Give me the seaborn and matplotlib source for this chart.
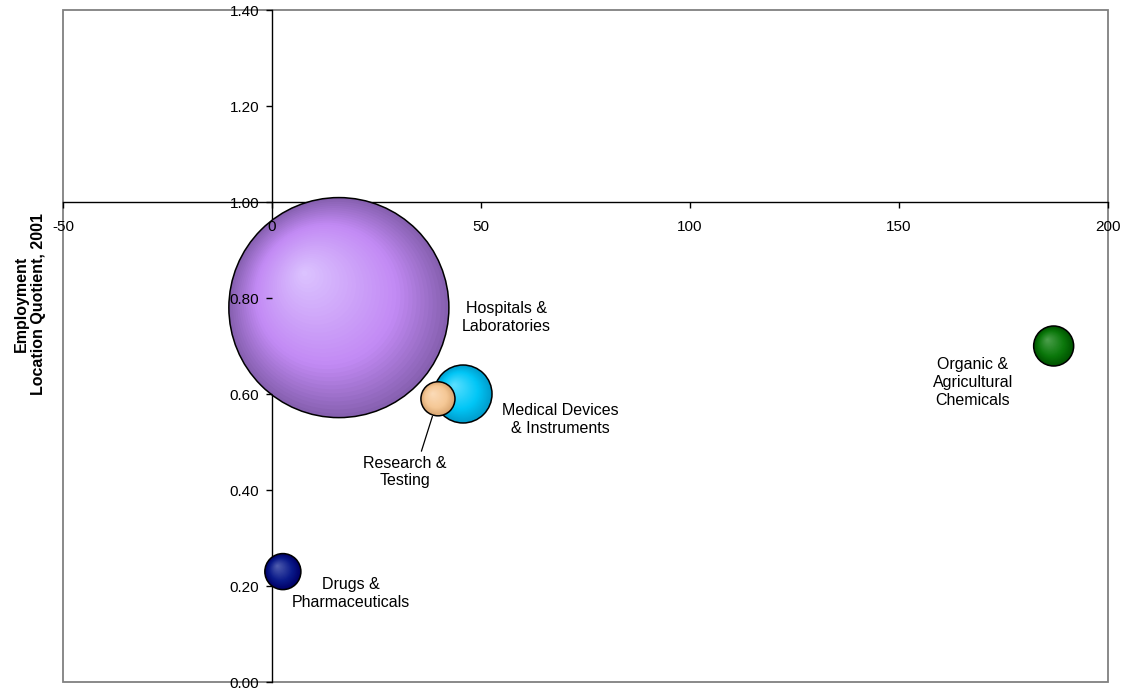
import numpy as np
import pandas as pd
import matplotlib
matplotlib.use("Agg")
import matplotlib.pyplot as plt
from matplotlib.transforms import ScaledTranslation
from matplotlib.patches import Rectangle
from matplotlib.colors import to_rgb
import seaborn as sns

# ---- data -------------------------------------------------------------
categories = ["Hospitals &\nLaboratories", "Medical Devices\n& Instruments",
              "Research &\nTesting", "Drugs &\nPharmaceuticals",
              "Organic &\nAgricultural\nChemicals"]
growth = [16.0, 45.7, 39.7, 2.6, 187.0]          # x values
location_quotient = [0.78, 0.60, 0.59, 0.23, 0.70]
employment = [24200, 1680, 580, 650, 800]       # bubble sizes

edge_colors = ["#8660b0", "#009ccc", "#d9a570", "#000066", "#005200"]
mid_colors = ["#c28af4", "#00c6f6", "#f5c896", "#0a1a8a", "#0b780b"]
light_colors = ["#dcc4ff", "#5ee0ff", "#fbdcba", "#5360b0", "#4ea04e"]

label_x = [56.0, 68.9, 31.8, 18.9, 167.7]
label_y = [0.76, 0.546, 0.4375, 0.185, 0.623]

x_ticks = [-50, 0, 50, 100, 150, 200]
y_ticks = [0.0, 0.2, 0.4, 0.6, 0.8, 1.0, 1.2, 1.4]

df = pd.DataFrame({"category": categories, "growth": growth,
                   "lq": location_quotient, "employment": employment})

# ---- figure -----------------------------------------------------------
sns.set_theme(style="white")
plt.rcParams["font.family"] = ["Liberation Sans", "DejaVu Sans"]
plt.rcParams["text.color"] = "black"
plt.rcParams["xtick.color"] = "black"
plt.rcParams["ytick.color"] = "black"

W, H, DPI = 1125, 692, 100
fig = plt.figure(figsize=(W / DPI, H / DPI), dpi=DPI)
ax = fig.add_axes([63 / W, 1 - 682 / H, (1108 - 63) / W, (682 - 10) / H])
ax.set_xlim(-50, 200)
ax.set_ylim(0, 1.4)

# area of the largest bubble in points^2; others scale with employment
S_MAX = 25100.0
size_max = max(employment)


def blend(c1, c2, t):
    a, b = np.array(to_rgb(c1)), np.array(to_rgb(c2))
    return tuple(a + (b - a) * t)


n_layers = 36
for i, row in df.iterrows():
    s_full = row["employment"] / size_max * S_MAX
    radius_pt = np.sqrt(s_full) / 2.0
    one = df.iloc[[i]]
    for k in range(n_layers):
        f = 1.0 - k / n_layers  # fraction of full radius
        t = 1.0 - f
        if t < 0.35:
            col = blend(edge_colors[i], mid_colors[i], t / 0.35)
        else:
            col = blend(mid_colors[i], light_colors[i], (t - 0.35) / 0.65)
        off = (1.0 - f) * 0.32 * radius_pt / 72.0
        tr = ax.transData + ScaledTranslation(-off, off, fig.dpi_scale_trans)
        sns.scatterplot(data=one, x="growth", y="lq", s=s_full * f * f,
                        color=col, edgecolor="none", linewidth=0,
                        transform=tr, ax=ax, legend=False, zorder=3 + i)
    sns.scatterplot(data=one, x="growth", y="lq", s=s_full,
                    facecolor="none", edgecolor="black", linewidth=1.1,
                    ax=ax, legend=False, zorder=3 + i)

# ---- labels -----------------------------------------------------------
for i, name in enumerate(categories):
    if name.startswith("Research"):
        s_full = employment[i] / size_max * S_MAX
        ax.annotate(name, xy=(growth[i], location_quotient[i]),
                    xytext=(label_x[i], label_y[i]), ha="center", va="center",
                    fontsize=11.5, zorder=20, color="black",
                    arrowprops=dict(arrowstyle="-", color="black", lw=0.9,
                                    relpos=(0.68, 1.0), shrinkA=1,
                                    shrinkB=np.sqrt(s_full) / 2 + 1))
    else:
        ax.text(label_x[i], label_y[i], name, ha="center", va="center",
                fontsize=11.5, zorder=20, linespacing=1.25, color="black")

# ---- axes: crossing at x=0, y=1 --------------------------------------
ax.spines["left"].set_position(("data", 0))
ax.spines["bottom"].set_position(("data", 1.0))
for sp in ("left", "bottom"):
    ax.spines[sp].set_color("black")
    ax.spines[sp].set_linewidth(1.0)
    ax.spines[sp].set_zorder(2)
for sp in ("top", "right"):
    ax.spines[sp].set_visible(False)
ax.add_patch(Rectangle((0, 0), 1, 1, transform=ax.transAxes, fill=False,
                       edgecolor="#808080", linewidth=1.3, clip_on=False,
                       zorder=1))

ax.set_xticks(x_ticks)
ax.set_xticklabels([str(v) for v in x_ticks])
ax.set_yticks(y_ticks)
ax.set_yticklabels([f"{v:.2f}" for v in y_ticks])
ax.tick_params(axis="x", direction="out", length=4, width=1, pad=9,
               labelsize=11, colors="black", bottom=True)
ax.tick_params(axis="y", direction="out", length=4, width=1, pad=5,
               labelsize=11, colors="black", left=True)
# tick labels sit on top of the bubbles, axis lines stay underneath
ax.xaxis.set_zorder(30)
ax.yaxis.set_zorder(30)
ax.set_xlabel("")
ax.set_ylabel("")
ax.grid(False)

fig.text(30 / W, 1 - 304 / H, "Employment\nLocation Quotient, 2001",
         rotation=90, ha="center", va="center", fontsize=11.5,
         fontweight="bold", multialignment="center", color="black")

fig.savefig("out.png", dpi=DPI, facecolor="white")
